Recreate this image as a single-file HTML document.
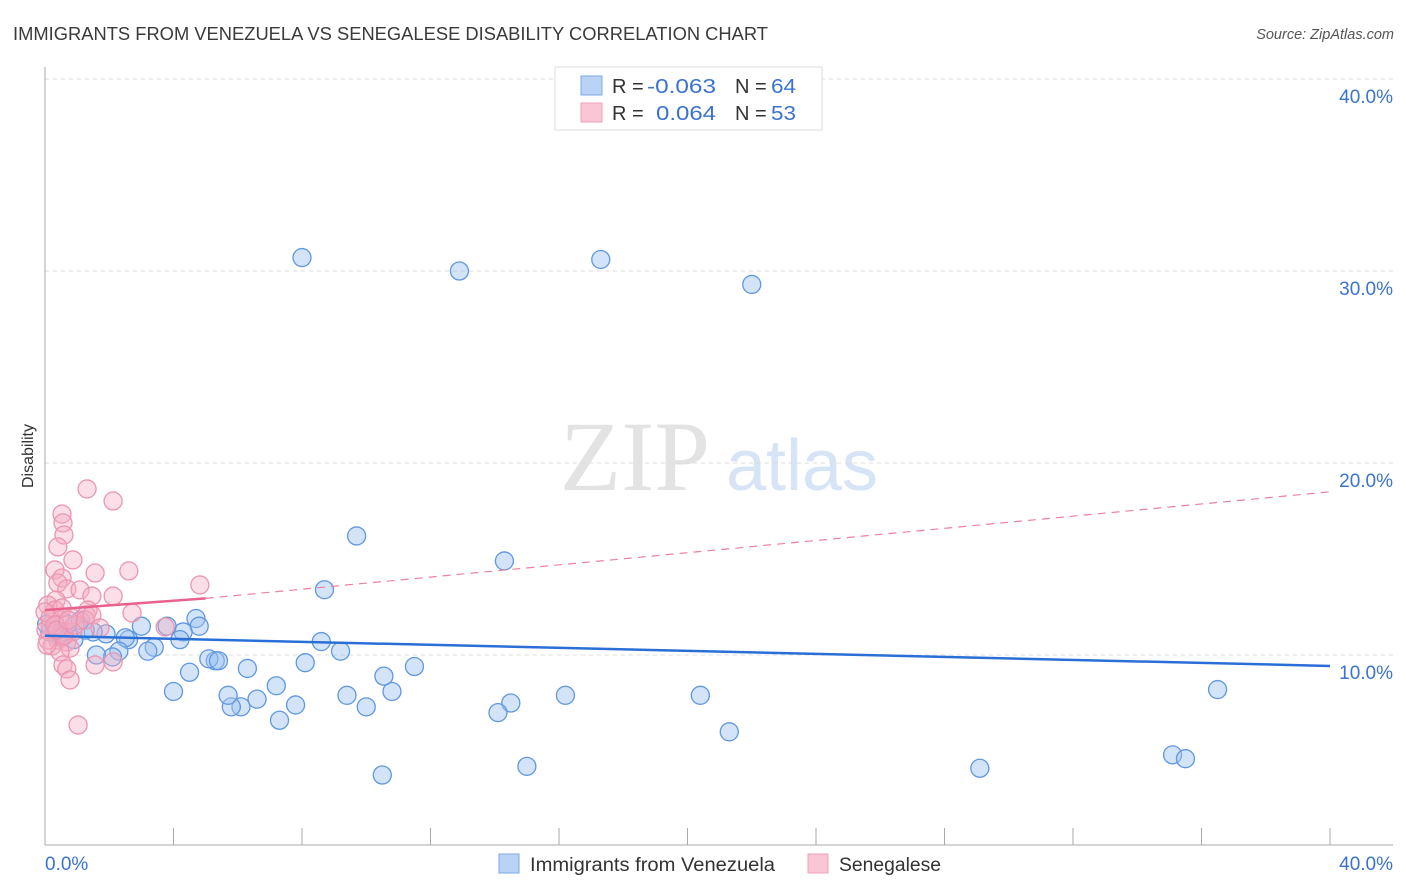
<!DOCTYPE html>
<html><head><meta charset="utf-8"><style>
body{margin:0;background:#fff;font-family:"Liberation Sans",sans-serif;}
svg{display:block}
</style></head><body>
<svg id="chart" width="1406" height="892" viewBox="0 0 1406 892" xmlns="http://www.w3.org/2000/svg">
<text x="13" y="40" font-size="18" fill="#3a3a3a" textLength="755" lengthAdjust="spacingAndGlyphs">IMMIGRANTS FROM VENEZUELA VS SENEGALESE DISABILITY CORRELATION CHART</text>
<text x="1394" y="39" font-size="14.5" fill="#555" font-style="italic" text-anchor="end">Source: ZipAtlas.com</text>
<text x="33" y="456" font-size="16" fill="#333" text-anchor="middle" transform="rotate(-90 33 456)">Disability</text>
<g>
<text x="635" y="490" font-size="100" fill="#e3e3e3" font-family="Liberation Serif,serif" text-anchor="middle">ZIP</text>
<text x="802" y="490" font-size="72" fill="#d6e4f5" text-anchor="middle">atlas</text>
</g>
<g id="grid"></g>
<g id="axes"></g>
<g id="marks"></g>
<g>
<rect x="555" y="67" width="267" height="63" fill="#fff" stroke="#ddd"/>
<rect x="581" y="76" width="21" height="19" fill="#b9d3f5" stroke="#7fa9e6"/>
<rect x="581" y="103" width="21" height="19" fill="#fac6d6" stroke="#efa0b8"/>
<text x="612" y="93" font-size="20" fill="#333">R = <tspan x="647" fill="#3b73d0" textLength="69" lengthAdjust="spacingAndGlyphs">-0.063</tspan><tspan x="735">N = </tspan><tspan x="771" fill="#3b73d0" textLength="25" lengthAdjust="spacingAndGlyphs">64</tspan></text>
<text x="612" y="120" font-size="20" fill="#333">R = <tspan x="656" fill="#3b73d0" textLength="60" lengthAdjust="spacingAndGlyphs">0.064</tspan><tspan x="735">N = </tspan><tspan x="771" fill="#3b73d0" textLength="25" lengthAdjust="spacingAndGlyphs">53</tspan></text>
</g>
<g>
<rect x="499" y="854" width="20" height="19" fill="#b9d3f5" stroke="#7fa9e6"/>
<text x="530" y="871" font-size="19" fill="#333" textLength="245" lengthAdjust="spacingAndGlyphs">Immigrants from Venezuela</text>
<rect x="808" y="854" width="20" height="19" fill="#fac6d6" stroke="#efa0b8"/>
<text x="839" y="871" font-size="19" fill="#333" textLength="102" lengthAdjust="spacingAndGlyphs">Senegalese</text>
</g>
</svg>
<script>
const blueX=[8.0,12.9,17.3,22.0,9.7,14.3,8.7,36.5,21.3,35.1,35.5,29.1,15.0,10.5,20.4,16.2,14.5,14.1,10.8,10.55,11.5,9.4,10.0,9.2,8.6,8.1,7.8,7.3,7.2,6.6,6.3,6.1,5.8,5.7,5.3,5.1,5.4,4.5,4.0,4.7,4.8,4.3,4.2,3.8,3.4,3.2,3.0,2.6,2.5,2.3,2.1,1.9,1.6,1.5,0.9,0.6,0.4,0.15,0.3,1.25,0.7,1.1,0.05,0.5];
const blueY=[30.7,30.0,30.6,29.3,16.2,14.9,13.4,8.2,6.0,4.8,4.6,4.1,4.2,3.75,7.9,7.9,7.5,7.0,8.1,8.9,9.4,7.9,7.3,10.2,10.7,9.6,7.4,6.6,8.4,7.7,9.3,7.3,7.3,7.9,9.7,9.8,9.7,9.1,8.1,11.9,11.5,11.2,10.8,11.5,10.4,10.2,11.5,10.8,10.9,10.2,9.9,11.1,10.0,11.2,10.8,11.2,11.0,11.2,11.3,11.3,11.6,11.8,11.6,10.9];
const pinkX=[1.31,2.12,0.53,0.56,0.59,0.4,0.87,0.31,1.56,2.61,0.53,0.4,0.68,1.09,1.46,2.12,4.82,0.34,0.09,0.31,0.84,1.34,2.71,1.28,0.47,0.16,3.74,0.87,0.09,0.4,0.68,0.22,0.78,0.47,0.56,0.68,1.56,2.12,0.78,1.03,0,0.03,0.16,0.31,0.59,0.37,0.06,0.53,0.93,1.25,1.46,1.71,0.72];
const pinkY=[18.65,18.02,17.34,16.88,16.25,15.63,14.95,14.43,14.27,14.38,14.01,13.75,13.44,13.39,13.07,13.07,13.65,12.86,12.6,12.34,11.93,12.34,12.19,12.08,11.82,11.56,11.46,11.2,10.78,10.78,10.68,10.47,10.36,10.16,9.48,9.27,9.48,9.64,8.7,6.35,12.24,11.3,11.93,11.56,10.99,11.3,10.52,12.45,11.56,11.82,12.08,11.41,11.82];
const blueTrendX=[0,40];const blueTrendY=[11.0,9.43];
const pinkTrendX=[0,5,40];const pinkTrendY=[12.34,12.95,18.5];
const yTicks=[10,20,30,40];const yTickLabels=["10.0%","20.0%","30.0%","40.0%"];
const xTicks=[0,4,8,12,16,20,24,28,32,36,40];
const xEndLabels=["0.0%","40.0%"];

const NS="http://www.w3.org/2000/svg";
const X=v=>45+v*(1285/40);
const Y=v=>847-v*19.2;
function mk(tag,attrs,parent){const e=document.createElementNS(NS,tag);for(const k in attrs)e.setAttribute(k,attrs[k]);document.getElementById(parent).appendChild(e);return e;}

yTicks.forEach((t,i)=>{
  const g=mk('line',{x1:45,x2:1393,y1:Y(t),y2:Y(t),stroke:'#ddd','stroke-dasharray':'4,4'},'grid');
  
  
  const l=mk('text',{x:1393,y:Y(t)+24,'font-size':19,fill:'#3b73d0','text-anchor':'end'},'axes');
  l.textContent=yTickLabels[i];
  
  
});
const ya=mk('line',{x1:45,x2:45,y1:67,y2:845,stroke:'#aaa'},'axes');


const xa=mk('line',{x1:45,x2:1393,y1:845,y2:845,stroke:'#aaa'},'axes');


xTicks.forEach(t=>{
  const tk=mk('line',{x1:X(t),x2:X(t),y1:828,y2:845,stroke:'#aaa'},'axes');
  
  
});
const xl0=mk('text',{x:45,y:870,'font-size':19,fill:'#3b73d0'},'axes');xl0.textContent=xEndLabels[0];


const xl1=mk('text',{x:1393,y:870,'font-size':19,fill:'#3b73d0','text-anchor':'end'},'axes');xl1.textContent=xEndLabels[1];



blueX.forEach((v,i)=>{
  const c=mk('circle',{cx:X(v),cy:Y(blueY[i]),r:9,fill:'rgba(160,196,240,0.45)',stroke:'#5f97e0','stroke-width':1.3},'marks');
  
  
});
pinkX.forEach((v,i)=>{
  const c=mk('circle',{cx:X(v),cy:Y(pinkY[i]),r:9,fill:'rgba(246,172,196,0.4)',stroke:'#ec95b0','stroke-width':1.3},'marks');
  
  
});
const bt=mk('line',{x1:X(blueTrendX[0]),y1:Y(blueTrendY[0]),x2:X(blueTrendX[1]),y2:Y(blueTrendY[1]),stroke:'#2a6fd6','stroke-width':2.5},'marks');


const pt=mk('line',{x1:X(pinkTrendX[0]),y1:Y(pinkTrendY[0]),x2:X(pinkTrendX[1]),y2:Y(pinkTrendY[1]),stroke:'#e8628c','stroke-width':2.5},'marks');


const pd=mk('line',{x1:X(pinkTrendX[1]),y1:Y(pinkTrendY[1]),x2:X(pinkTrendX[2]),y2:Y(pinkTrendY[2]),stroke:'#e8829f','stroke-width':1.2,'stroke-dasharray':'8,6'},'marks');


</script>
</body></html>
